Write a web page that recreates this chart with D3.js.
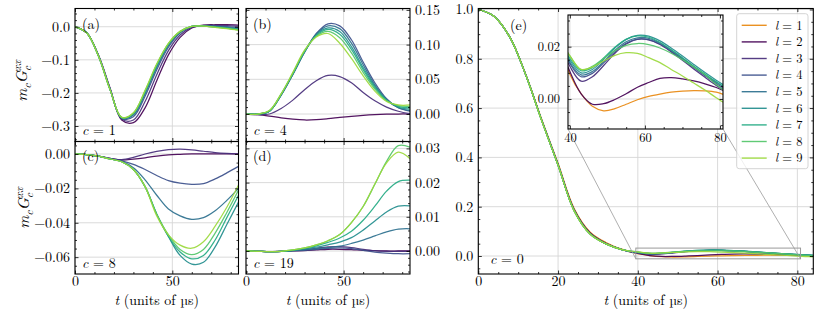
<!DOCTYPE html>
<html><head><meta charset="utf-8">
<script src="https://cdn.jsdelivr.net/npm/d3@7"></script>
<style>
body{margin:0;background:#fff}
svg text{font-family:'Latin Modern Roman','Liberation Serif',serif;}
</style>
</head><body>
<svg id="c" width="830" height="312" xmlns="http://www.w3.org/2000/svg"></svg>
<script>
// ---------------- data ----------------
const levels = [1,2,3,4,5,6,7,8,9];            // l values (legend)
const tGrid = [0,6,12,18,24,30,36,42,48,54,60,66,72,78,84];   // panels a-d
const eTime = [0,4,8,12,16,20,24,28,32,36,40,43,46,49,52,55,58,61,64,67,70,73,76,79,82,84]; // panel e

// panel (a) c = 1, rows l = 2..9
const cOne = [
 [0,-0.018,-0.085,-0.185,-0.282,-0.290,-0.245,-0.163,-0.085,-0.032,-0.004,0.005,0.006,0.006,0.005],
 [0,-0.018,-0.086,-0.187,-0.279,-0.282,-0.226,-0.145,-0.072,-0.025,-0.002,0.004,0.004,0.003,0.002],
 [0,-0.018,-0.087,-0.188,-0.277,-0.272,-0.210,-0.130,-0.062,-0.019,0.000,0.003,0.002,0.000,-0.002],
 [0,-0.018,-0.087,-0.189,-0.276,-0.267,-0.203,-0.123,-0.057,-0.017,0.001,0.003,0.001,-0.002,-0.005],
 [0,-0.018,-0.088,-0.190,-0.275,-0.264,-0.199,-0.119,-0.054,-0.016,0.001,0.002,0.000,-0.003,-0.007],
 [0,-0.018,-0.088,-0.190,-0.275,-0.262,-0.196,-0.116,-0.052,-0.015,0.001,0.002,-0.001,-0.004,-0.008],
 [0,-0.018,-0.088,-0.190,-0.274,-0.261,-0.194,-0.114,-0.051,-0.014,0.001,0.002,-0.001,-0.005,-0.010],
 [0,-0.018,-0.088,-0.190,-0.274,-0.260,-0.192,-0.112,-0.050,-0.014,0.001,0.002,-0.002,-0.006,-0.011]
];
// panel (b) c = 4
const cFour = [
 [0,-0.001,-0.003,-0.0055,-0.0075,-0.0086,-0.0082,-0.0068,-0.005,-0.0033,-0.0019,-0.0009,-0.0003,0,0],
 [0,-0.001,0.000,0.008,0.020,0.035,0.048,0.0555,0.054,0.045,0.031,0.019,0.010,0.004,0.0005],
 [0,0,0.004,0.027,0.057,0.089,0.116,0.130,0.127,0.107,0.075,0.045,0.022,0.009,0.004],
 [0,0,0.004,0.027,0.057,0.089,0.115,0.127,0.123,0.102,0.071,0.042,0.021,0.009,0.005],
 [0,0,0.004,0.028,0.058,0.090,0.114,0.124,0.119,0.097,0.067,0.040,0.020,0.010,0.007],
 [0,0,0.004,0.028,0.058,0.090,0.113,0.122,0.115,0.093,0.064,0.038,0.020,0.011,0.009],
 [0,0,0.005,0.029,0.059,0.091,0.112,0.119,0.110,0.088,0.060,0.036,0.019,0.012,0.011],
 [0,0,0.005,0.029,0.060,0.092,0.111,0.116,0.102,0.080,0.055,0.033,0.018,0.013,0.013]
];
// panel (c) c = 8
const cEight = [
 [0,-0.0004,-0.0012,-0.0025,-0.0035,-0.003,-0.0022,-0.0012,-0.0005,-0.0002,0,0,0,0,0],
 [0,-0.0004,-0.0012,-0.0025,-0.0033,-0.002,0.000,0.0015,0.0025,0.0028,0.0024,0.0016,0.0008,0.0003,0],
 [0,-0.0004,-0.0012,-0.0027,-0.004,-0.006,-0.009,-0.0125,-0.0155,-0.017,-0.0176,-0.0172,-0.0145,-0.011,-0.0072],
 [0,-0.0004,-0.0012,-0.0028,-0.0043,-0.008,-0.015,-0.024,-0.032,-0.036,-0.038,-0.037,-0.033,-0.027,-0.020],
 [0,-0.0004,-0.0013,-0.0029,-0.0045,-0.009,-0.019,-0.035,-0.048,-0.059,-0.064,-0.063,-0.054,-0.041,-0.028],
 [0,-0.0004,-0.0013,-0.0029,-0.0045,-0.009,-0.019,-0.035,-0.048,-0.057,-0.061,-0.059,-0.050,-0.037,-0.024],
 [0,-0.0004,-0.0013,-0.0029,-0.0045,-0.009,-0.019,-0.035,-0.047,-0.0555,-0.0585,-0.0555,-0.046,-0.034,-0.021],
 [0,-0.0004,-0.0013,-0.0029,-0.0045,-0.009,-0.019,-0.036,-0.047,-0.053,-0.0548,-0.051,-0.042,-0.031,-0.018]
];
// panel (d) c = 19
const cNineteen = [
 [0,-0.0001,-0.0002,-0.0001,0,0.0001,0.0003,0.0005,0.0005,0.0004,0.0002,0.0001,0,0,0],
 [0,-0.0001,-0.0002,-0.0001,0.0001,0.0003,0.0008,0.0012,0.0013,0.001,0.0005,0.0001,-0.0001,-0.0001,-0.0001],
 [0,-0.0001,-0.0002,-0.0001,0.0001,0.0002,0.0005,0.0008,0.0009,0.0007,0.0002,-0.0003,-0.0006,-0.0008,-0.0008],
 [0,-0.0001,-0.0002,-0.0001,0.0001,0.0004,0.0007,0.001,0.0014,0.0022,0.0032,0.0044,0.0056,0.0064,0.0065],
 [0,-0.0001,-0.0002,-0.0001,0.0002,0.0006,0.0011,0.0018,0.0026,0.0039,0.0061,0.0088,0.0114,0.0131,0.0132],
 [0,-0.0001,-0.0002,-0.0001,0.0002,0.0008,0.0015,0.0025,0.0038,0.0058,0.009,0.0131,0.0175,0.0203,0.0207],
 [0,-0.0001,-0.0002,-0.0001,0.0003,0.0009,0.0018,0.003,0.0048,0.0083,0.013,0.0195,0.0262,0.0308,0.0304],
 [0,-0.0001,-0.0002,-0.0001,0.0003,0.0009,0.0018,0.003,0.0048,0.0083,0.013,0.0196,0.0258,0.0289,0.027]
];
// panel (e) c = 0, rows l = 1..9
const cZero = [
 [1,0.972,0.886,0.732,0.550,0.376,0.194,0.098,0.055,0.028, 0.0095,0.002,-0.0028,-0.0045,-0.0037,-0.002,-0.0003,0.001,0.0019,0.0026,0.003,0.0032,0.0031,0.0026,0.0012,0.0003],
 [1,0.972,0.885,0.731,0.547,0.372,0.190,0.095,0.052,0.026, 0.0105,0.002,-0.002,-0.0018,-0.0002,0.002,0.0045,0.0063,0.0079,0.0082,0.0077,0.0069,0.0058,0.0044,0.0025,0.0012],
 [1,0.972,0.885,0.730,0.545,0.369,0.186,0.091,0.050,0.026, 0.0125,0.0068,0.0085,0.0128,0.0175,0.021,0.0228,0.0226,0.0208,0.018,0.0148,0.0115,0.0083,0.0052,0.0027,0.0012],
 [1,0.972,0.885,0.730,0.545,0.369,0.186,0.091,0.050,0.026, 0.0135,0.0085,0.0098,0.0138,0.018,0.0213,0.0229,0.0227,0.021,0.0183,0.0152,0.012,0.0089,0.0059,0.0032,0.0017],
 [1,0.972,0.885,0.730,0.545,0.369,0.185,0.090,0.049,0.026, 0.014,0.0092,0.0105,0.0143,0.0186,0.0219,0.0234,0.0232,0.0214,0.0187,0.0156,0.0124,0.0093,0.0064,0.0038,0.0022],
 [1,0.972,0.885,0.730,0.545,0.369,0.185,0.090,0.049,0.026, 0.0148,0.010,0.0113,0.0152,0.0195,0.0228,0.0243,0.024,0.0222,0.0195,0.0164,0.0132,0.0101,0.0072,0.0045,0.0028],
 [1,0.972,0.885,0.730,0.545,0.369,0.185,0.090,0.049,0.026, 0.0155,0.0108,0.012,0.0157,0.0198,0.0228,0.0241,0.0236,0.0216,0.0188,0.0157,0.0125,0.0095,0.0066,0.004,0.0024],
 [1,0.972,0.885,0.730,0.544,0.368,0.184,0.089,0.049,0.026, 0.0165,0.0112,0.0125,0.0155,0.0185,0.0205,0.0212,0.0208,0.0195,0.0175,0.015,0.0122,0.0093,0.0055,0.0022,0.0005],
 [1,0.972,0.885,0.730,0.544,0.368,0.184,0.089,0.049,0.026, 0.0165,0.0113,0.0122,0.0145,0.0167,0.0177,0.0174,0.0158,0.0139,0.0113,0.0088,0.0061,0.0034,0.0005,-0.0022,-0.0035]
];

// ---------------- drawing ----------------
const FONT = "'Latin Modern Roman','Liberation Serif',serif";
const GRID = "#d6d6d6";
const colors = [ "#e8880f" ].concat(d3.range(8).map(i => d3.interpolateViridis(i/7*0.85)));
const svg = d3.select("#c");
const defs = svg.append("defs");
const line = (x,y,t) => d3.line().x((d,j)=>x(t[j])).y(d=>y(d)).curve(d3.curveCatmullRom.alpha(0.5));
const fmt = s => d3.format(s);

function ticksStep(a,b,s){ const out=[]; const n0=Math.ceil(a/s-1e-9), n1=Math.floor(b/s+1e-9); for(let n=n0;n<=n1;n++) out.push(+(n*s).toFixed(6)); return out; }

function addAxis(g, gen, scale, tx, ty, major, minor, f, show, pad, fs){
  const a1 = gen(scale).tickValues(major).tickSize(-3.5).tickPadding(pad).tickFormat(show ? f : () => "");
  const ga = g.append("g").attr("transform",`translate(${tx},${ty})`).call(a1);
  const a2 = gen(scale).tickValues(minor).tickSize(-2).tickFormat(() => "");
  const gb = g.append("g").attr("transform",`translate(${tx},${ty})`).call(a2);
  [ga,gb].forEach(s=>{
    s.select(".domain").remove();
    s.attr("font-family",null).style("font-family",FONT).attr("font-size",fs);
    s.selectAll(".tick line").attr("stroke","#000").attr("stroke-width",0.8);
    s.selectAll(".tick text").attr("fill","#000").style("font-family",FONT).style("font-size",fs+"px");
  });
}

function panel(o){
  const x = d3.scaleLinear().domain(o.xdom).range([o.x0,o.x1]);
  const y = d3.scaleLinear().domain(o.ydom).range([o.y1,o.y0]);
  const g = svg.append("g");
  const fs = o.fs || 14;
  if(o.bg) g.append("rect").attr("x",o.x0).attr("y",o.y0).attr("width",o.x1-o.x0).attr("height",o.y1-o.y0).attr("fill","#fff");
  defs.append("clipPath").attr("id","clip"+o.id).append("rect")
    .attr("x",o.x0).attr("y",o.y0).attr("width",o.x1-o.x0).attr("height",o.y1-o.y0);
  const xM = ticksStep(o.xdom[0],o.xdom[1],o.xStep), yM = ticksStep(o.ydom[0],o.ydom[1],o.yStep);
  const xm = ticksStep(o.xdom[0],o.xdom[1],o.xmStep).filter(v=>!xM.some(M=>Math.abs(M-v)<1e-9));
  const ym = ticksStep(o.ydom[0],o.ydom[1],o.ymStep).filter(v=>!yM.some(M=>Math.abs(M-v)<1e-9));
  g.append("g").selectAll("line").data(xM).join("line")
    .attr("x1",d=>x(d)).attr("x2",d=>x(d)).attr("y1",o.y0).attr("y2",o.y1).attr("stroke",GRID).attr("stroke-width",0.9);
  g.append("g").selectAll("line").data(yM).join("line")
    .attr("y1",d=>y(d)).attr("y2",d=>y(d)).attr("x1",o.x0).attr("x2",o.x1).attr("stroke",GRID).attr("stroke-width",0.9);
  const lg = g.append("g").attr("clip-path",`url(#clip${o.id})`);
  o.rows.forEach((r,i)=>{
    lg.append("path").datum(r).attr("d",line(x,y,o.t)).attr("fill","none")
      .attr("stroke",o.colors[i]).attr("stroke-width",1.25).attr("stroke-opacity",0.92);
  });
  if(o.extra) o.extra(g,x,y);
  g.append("rect").attr("x",o.x0).attr("y",o.y0).attr("width",o.x1-o.x0).attr("height",o.y1-o.y0)
    .attr("fill","none").attr("stroke","#000").attr("stroke-width",1.1);
  addAxis(g,d3.axisLeft,y,o.x0,0,yM,ym,fmt(o.yFmt),o.yLab==="left",o.yPad||5,fs);
  addAxis(g,d3.axisRight,y,o.x1,0,yM,ym,fmt(o.yFmt),o.yLab==="right",o.yPad||5,fs);
  addAxis(g,d3.axisBottom,x,0,o.y1,xM,xm,fmt("d"),o.xLab,o.xPad||2,fs);
  addAxis(g,d3.axisTop,x,0,o.y0,xM,xm,fmt("d"),false,3,fs);
  return {g,x,y};
}

function label(g, x, y, parts, fs, anchor){
  const t = g.append("text").attr("x",x).attr("y",y).style("font-family",FONT).style("font-size",fs+"px")
    .attr("fill","#000").attr("text-anchor",anchor||"start");
  parts.forEach(p=>{ const s=t.append("tspan").text(p[0]); if(p[1]) s.attr("font-style","italic"); });
  return t;
}

const sub = colors.slice(1);
const A = panel({id:"a",x0:75,x1:238.5,y0:8.5,y1:141.5,xdom:[0,84],ydom:[-0.3468,0.0551],t:tGrid,rows:cOne,colors:sub,
  xStep:50,xmStep:10,yStep:0.1,ymStep:0.02,yFmt:".1f",yLab:"left",xLab:false});
const B = panel({id:"b",x0:246,x1:410,y0:8.5,y1:141.5,xdom:[0,84],ydom:[-0.0396,0.152],t:tGrid,rows:cFour,colors:sub,
  xStep:50,xmStep:10,yStep:0.05,ymStep:0.01,yFmt:".2f",yLab:"right",xLab:false});
const C = panel({id:"c",x0:75,x1:238.5,y0:141.5,y1:274,xdom:[0,84],ydom:[-0.0698,0.00727],t:tGrid,rows:cEight,colors:sub,
  xStep:50,xmStep:10,yStep:0.02,ymStep:0.005,yFmt:".2f",yLab:"left",xLab:true});
const D = panel({id:"d",x0:246,x1:410,y0:141.5,y1:274,xdom:[0,84],ydom:[-0.00673,0.03202],t:tGrid,rows:cNineteen,colors:sub,
  xStep:50,xmStep:10,yStep:0.01,ymStep:0.002,yFmt:".2f",yLab:"right",xLab:true});

const inset = {x0:568,x1:723,y0:15,y1:129,xdom:[39.5,80.8],ydom:[-0.01147,0.0321]};
const E = panel({id:"e",x0:478.3,x1:813.3,y0:8.5,y1:274,xdom:[0,84],ydom:[-0.073,1.004],t:eTime,rows:cZero,colors:colors,
  xStep:20,xmStep:5,yStep:0.2,ymStep:0.05,yFmt:".1f",yLab:"left",xLab:true,
  extra:(g,x,y)=>{
    const rx0=x(inset.xdom[0]), rx1=x(inset.xdom[1]), ry0=y(inset.ydom[1]), ry1=y(inset.ydom[0]);
    g.append("rect").attr("x",rx0).attr("y",ry0).attr("width",rx1-rx0).attr("height",ry1-ry0)
      .attr("fill","none").attr("stroke","#9a9a9a").attr("stroke-width",1);
    g.append("line").attr("x1",inset.x0).attr("y1",inset.y1).attr("x2",rx0).attr("y2",ry1).attr("stroke","#9a9a9a").attr("stroke-width",0.8);
    g.append("line").attr("x1",inset.x1).attr("y1",inset.y1).attr("x2",rx1).attr("y2",ry1).attr("stroke","#9a9a9a").attr("stroke-width",0.8);
  }});
const I = panel(Object.assign({id:"i",bg:true,t:eTime,rows:cZero,colors:colors,fs:12.5,
  xStep:20,xmStep:5,yStep:0.02,ymStep:0.005,yFmt:".2f",yLab:"left",xLab:true,yPad:8,xPad:4}, inset));

// legend
const leg = svg.append("g");
leg.append("rect").attr("x",736.7).attr("y",13.7).attr("width",71.3).attr("height",155).attr("rx",2.5)
  .attr("fill","#fff").attr("fill-opacity",0.8).attr("stroke","#cfcfcf").attr("stroke-width",0.9);
levels.forEach((l,i)=>{
  const yy = 25.3 + i*16.6;
  leg.append("line").attr("x1",741.7).attr("x2",766.7).attr("y1",yy).attr("y2",yy)
    .attr("stroke",colors[i]).attr("stroke-width",1.4).attr("stroke-opacity",0.92);
  label(leg,775,yy+4.3,[["l",true],[" = "+l,false]],12.5);
});

// panel letters and c labels
label(A.g,82,28.8,[["(a)",false]],14);
label(B.g,253,28.8,[["(b)",false]],14);
label(C.g,82,160.5,[["(c)",false]],14);
label(D.g,253,160.5,[["(d)",false]],14);
label(E.g,510,29.8,[["(e)",false]],14);
label(A.g,82,134.5,[["c",true],[" = 1",false]],14);
label(B.g,253,134.5,[["c",true],[" = 4",false]],14);
label(C.g,82,268,[["c",true],[" = 8",false]],14);
label(D.g,253,268,[["c",true],[" = 19",false]],14);
label(E.g,490,263.5,[["c",true],[" = 0",false]],14);

// x labels
[[156.75],[328],[645.8]].forEach(([cx])=>{
  label(svg,cx,304.5,[["t",true],[" (units of µs)",false]],14,"middle");
});

// y labels
function yLabel(cx,cy){
  const t = svg.append("text").attr("transform",`translate(${cx},${cy}) rotate(-90)`)
    .style("font-family",FONT).style("font-size","16px").attr("fill","#000").attr("text-anchor","middle");
  t.append("tspan").attr("font-style","italic").text("m");
  t.append("tspan").attr("font-style","italic").style("font-size","11.5px").attr("dy",3.5).text("c");
  t.append("tspan").attr("font-style","italic").attr("dy",-3.5).text("G");
  t.append("tspan").attr("font-style","italic").style("font-size","11.5px").attr("dy",-6.5).text("xx");
  t.append("tspan").attr("font-style","italic").style("font-size","11.5px").attr("dx",-11).attr("dy",10.5).text("c");
}
yLabel(27,81);
yLabel(29,208);
</script>
</body></html>
